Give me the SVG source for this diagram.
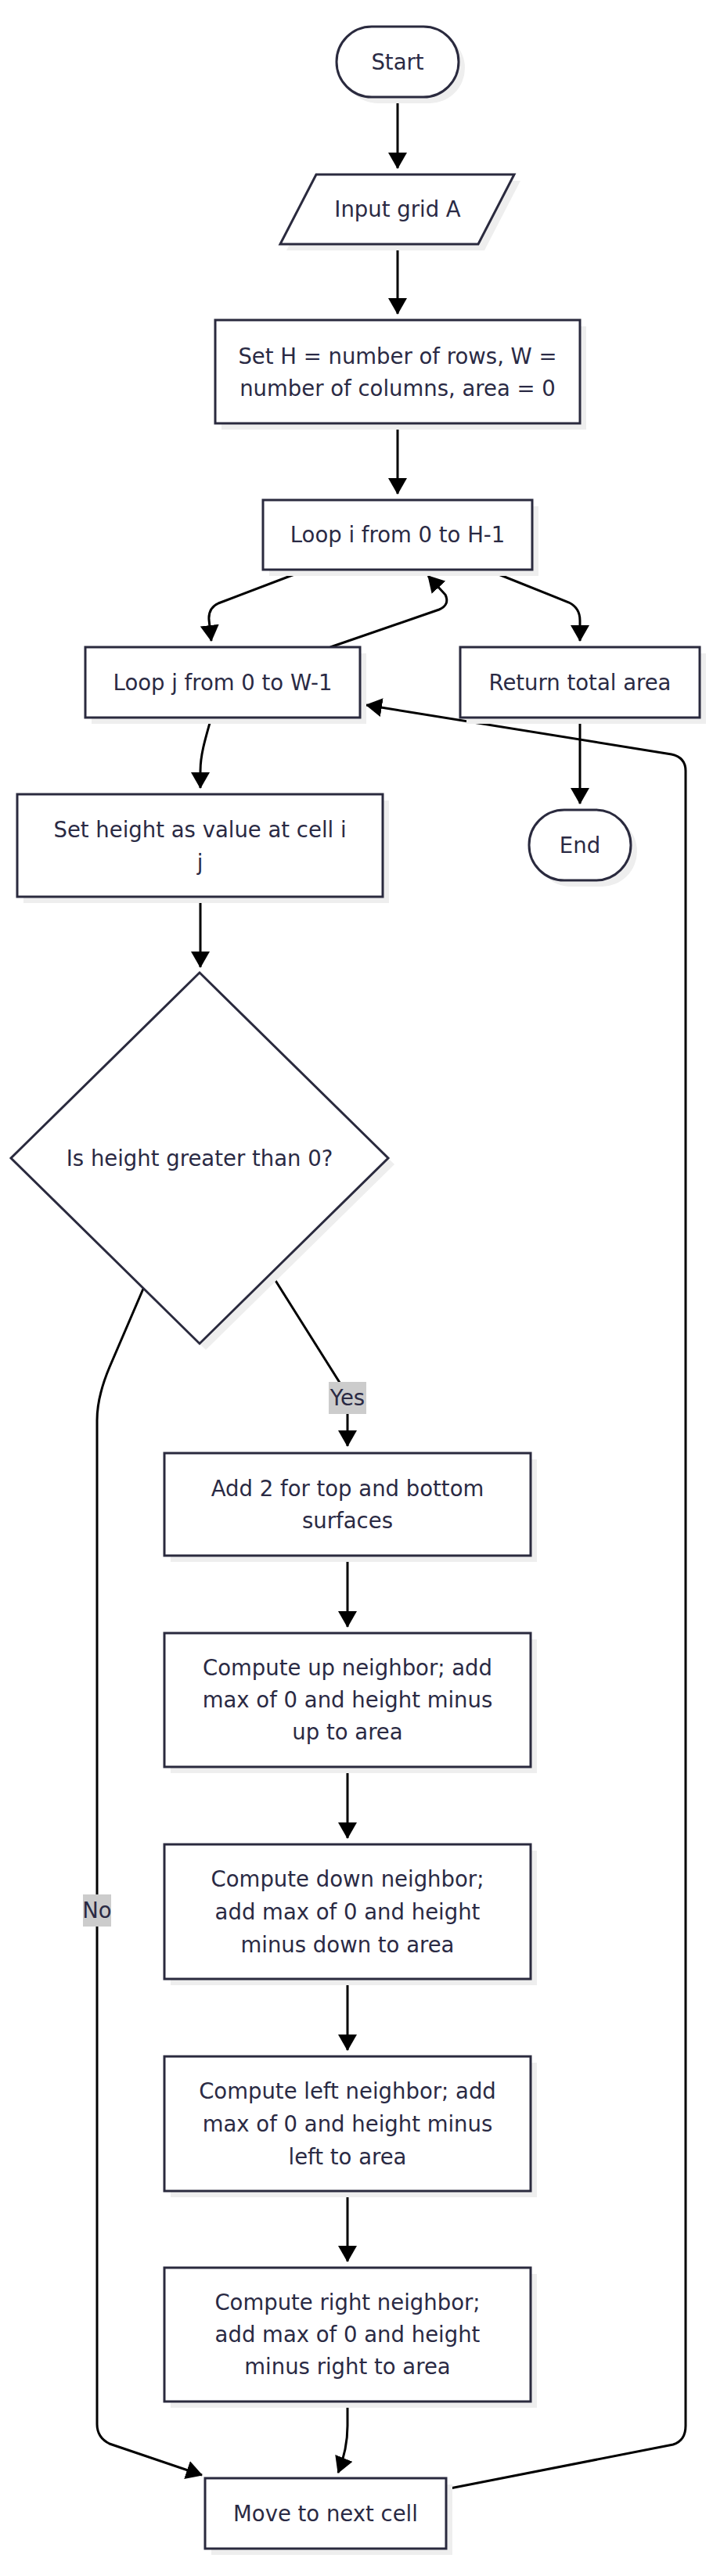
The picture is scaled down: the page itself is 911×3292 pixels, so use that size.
<svg xmlns="http://www.w3.org/2000/svg" width="911" height="3292" viewBox="0 0 911 3292">
<style>
.sh{fill:#eeeeee;stroke:none}
.nd{fill:#ffffff;stroke:#2a2a3e;stroke-width:3}
.tx{font-family:"DejaVu Sans",sans-serif;font-size:27.5px;fill:#2a2a44;text-anchor:middle;dominant-baseline:central}
.ed{fill:none;stroke:#000000;stroke-width:3}
.lb{fill:#cccccc;stroke:none}
</style>
<defs>
<marker id="ah" markerUnits="userSpaceOnUse" markerWidth="22" markerHeight="24" refX="20" refY="12" orient="auto">
<path d="M0,0 L21,12 L0,24 z" fill="#000000"/>
</marker>
</defs>
<rect width="911" height="3292" fill="#ffffff"/>

<g id="connectors">
<path class="ed" d="M508,124 L508,215" marker-end="url(#ah)"/>
<path class="ed" d="M508,312 L508,401" marker-end="url(#ah)"/>
<path class="ed" d="M508,541 L508,631" marker-end="url(#ah)"/>
<path class="ed" d="M392,728 L279,771 Q266,777 267,792 L270,819" marker-end="url(#ah)"/>
<path class="ed" d="M422,827 L561,779 Q575,773 569,760 L547,736" marker-end="url(#ah)"/>
<path class="ed" d="M622,728 L727,770 Q741,777 741,793 L741,819" marker-end="url(#ah)"/>
<path class="ed" d="M741,917 L741,1027" marker-end="url(#ah)"/>
<path class="ed" d="M270,917 C262,945 256,965 256,985 L256,1007" marker-end="url(#ah)"/>
<path class="ed" d="M256,1146 L256,1236" marker-end="url(#ah)"/>
<path class="ed" d="M346,1627 L436,1770 Q444,1783 444,1798 L444,1848" marker-end="url(#ah)"/>
<path class="ed" d="M444,1988 L444,2079" marker-end="url(#ah)"/>
<path class="ed" d="M444,2258 L444,2349" marker-end="url(#ah)"/>
<path class="ed" d="M444,2529 L444,2620" marker-end="url(#ah)"/>
<path class="ed" d="M444,2800 L444,2890" marker-end="url(#ah)"/>
<path class="ed" d="M444,3069 L444,3100 Q444,3130 432,3160" marker-end="url(#ah)"/>
<path class="ed" d="M183,1647 L140,1747 Q124,1785 124,1815 L124,3098 Q124,3115 140,3123 L258,3163" marker-end="url(#ah)"/>
<path class="ed" d="M570,3181 L860,3124 Q876,3119 876,3100 L876,985 Q876,968 858,964 L468,901" marker-end="url(#ah)"/>
<rect class="lb" x="420" y="1766" width="48" height="41"/>
<text class="tx" x="444" y="1786">Yes</text>
<rect class="lb" x="106" y="2421" width="36" height="41"/>
<text class="tx" x="124" y="2441">No</text>
</g>

<g id="start">
<rect class="sh" x="438" y="42" width="156" height="90" rx="45"/>
<rect class="nd" x="430" y="34" width="156" height="90" rx="45"/>
<text class="tx" x="508" y="79">Start</text>
</g>
<g id="input">
<polygon class="sh" points="412,231 665,231 619,320 366,320"/>
<polygon class="nd" points="404,223 657,223 611,312 358,312"/>
<text class="tx" x="508" y="267">Input grid A</text>
</g>
<g id="setHW">
<rect class="sh" x="283" y="417" width="466" height="132"/>
<rect class="nd" x="275" y="409" width="466" height="132"/>
<text class="tx" x="508" y="455">Set H = number of rows, W =</text>
<text class="tx" x="508" y="496">number of columns, area = 0</text>
</g>
<g id="loopI">
<rect class="sh" x="344" y="647" width="344" height="89"/>
<rect class="nd" x="336" y="639" width="344" height="89"/>
<text class="tx" x="508" y="683">Loop i from 0 to H-1</text>
</g>
<g id="loopJ">
<rect class="sh" x="117" y="835" width="351" height="90"/>
<rect class="nd" x="109" y="827" width="351" height="90"/>
<text class="tx" x="284.5" y="872">Loop j from 0 to W-1</text>
</g>
<g id="returnArea">
<rect class="sh" x="596" y="835" width="306" height="90"/>
<rect class="nd" x="588" y="827" width="306" height="90"/>
<text class="tx" x="741" y="872">Return total area</text>
</g>
<g id="end">
<rect class="sh" x="684" y="1043" width="130" height="90" rx="45"/>
<rect class="nd" x="676" y="1035" width="130" height="90" rx="45"/>
<text class="tx" x="741" y="1080">End</text>
</g>
<g id="setHeight">
<rect class="sh" x="30" y="1023" width="467" height="131"/>
<rect class="nd" x="22" y="1015" width="467" height="131"/>
<text class="tx" x="255.5" y="1060">Set height as value at cell i</text>
<text class="tx" x="255.5" y="1102">j</text>
</g>
<g id="decision">
<polygon class="sh" points="263,1251 504,1488 263,1725 22,1488"/>
<polygon class="nd" points="255,1243 496,1480 255,1717 14,1480"/>
<text class="tx" x="255" y="1480">Is height greater than 0?</text>
</g>
<g id="addTopBottom">
<rect class="sh" x="218" y="1865" width="468" height="131"/>
<rect class="nd" x="210" y="1857" width="468" height="131"/>
<text class="tx" x="444" y="1902">Add 2 for top and bottom</text>
<text class="tx" x="444" y="1943">surfaces</text>
</g>
<g id="upNeighbor">
<rect class="sh" x="218" y="2095" width="468" height="171"/>
<rect class="nd" x="210" y="2087" width="468" height="171"/>
<text class="tx" x="444" y="2131">Compute up neighbor; add</text>
<text class="tx" x="444" y="2172">max of 0 and height minus</text>
<text class="tx" x="444" y="2213">up to area</text>
</g>
<g id="downNeighbor">
<rect class="sh" x="218" y="2365" width="468" height="172"/>
<rect class="nd" x="210" y="2357" width="468" height="172"/>
<text class="tx" x="444" y="2401">Compute down neighbor;</text>
<text class="tx" x="444" y="2443">add max of 0 and height</text>
<text class="tx" x="444" y="2485">minus down to area</text>
</g>
<g id="leftNeighbor">
<rect class="sh" x="218" y="2636" width="468" height="172"/>
<rect class="nd" x="210" y="2628" width="468" height="172"/>
<text class="tx" x="444" y="2672">Compute left neighbor; add</text>
<text class="tx" x="444" y="2714">max of 0 and height minus</text>
<text class="tx" x="444" y="2756">left to area</text>
</g>
<g id="rightNeighbor">
<rect class="sh" x="218" y="2906" width="468" height="171"/>
<rect class="nd" x="210" y="2898" width="468" height="171"/>
<text class="tx" x="444" y="2942">Compute right neighbor;</text>
<text class="tx" x="444" y="2983">add max of 0 and height</text>
<text class="tx" x="444" y="3024">minus right to area</text>
</g>
<g id="nextCell">
<rect class="sh" x="270" y="3175" width="308" height="90"/>
<rect class="nd" x="262" y="3167" width="308" height="90"/>
<text class="tx" x="416" y="3212">Move to next cell</text>
</g>
</svg>
